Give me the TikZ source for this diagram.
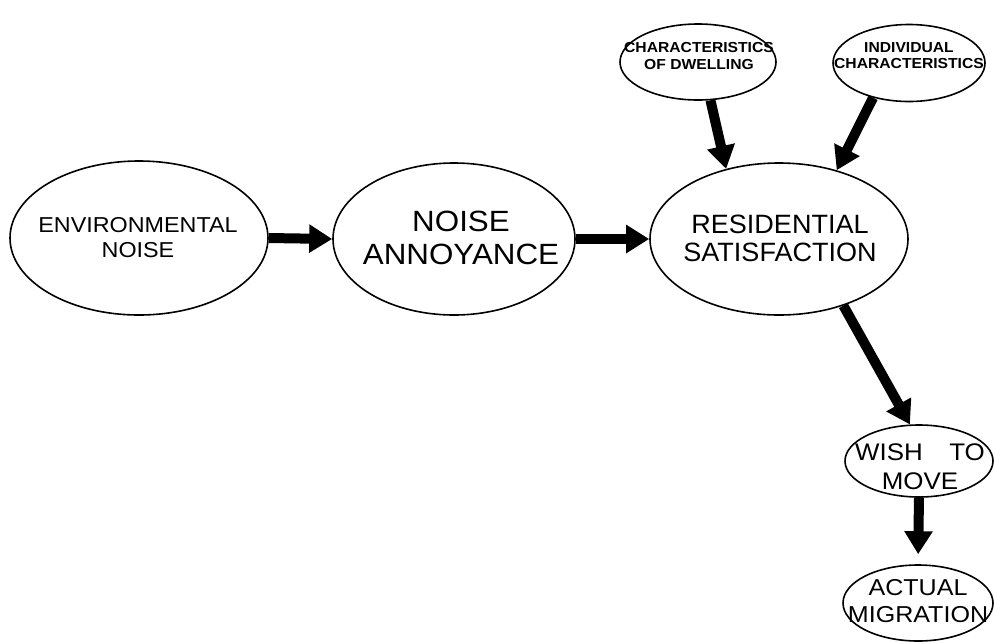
\documentclass[tikz,border=0pt]{standalone}
\usepackage{fontspec}
\usetikzlibrary{shapes.geometric,arrows.meta}
\newfontfamily\labfont{Liberation Sans}
\newcommand{\labsize}[3]{\labfont\addfontfeature{FakeStretch=#3}\fontsize{#1}{#2}\selectfont}
\begin{document}
\begin{tikzpicture}[x=1pt,y=-1pt,
  bubble/.style={ellipse, draw, line width=1.6pt, inner sep=0pt},
  lab/.style={align=center, inner sep=0pt},
  flow/.style={line width=10pt, -{Triangle[length=23pt,width=27pt]}}]
\useasboundingbox (0,0) rectangle (994,641);
\begin{scope}
\clip (0,0) rectangle (994,641);
% main chain of concepts
\node[bubble, minimum width=258pt, minimum height=154pt] (env)   at (139,238) {};
\node[bubble, minimum width=242pt, minimum height=152pt] (noise) at (454,239) {};
\node[bubble, minimum width=258pt, minimum height=152pt] (res)   at (779,239) {};
% influencing factors
\node[bubble, minimum width=156pt, minimum height=76pt] (dwell) at (698,62) {};
\node[bubble, minimum width=152pt, minimum height=77pt] (indiv) at (909,63) {};
% outcomes
\node[bubble, minimum width=148pt, minimum height=72pt] (wish) at (919,461) {};
\node[bubble, minimum width=150pt, minimum height=76pt] (act)  at (918,603) {};
\end{scope}

% labels
\node[lab, font=\labsize{21.6}{25}{1.08}] (envt) at (138,238) {ENVIRONMENTAL\\NOISE};
\node[lab, font=\labsize{29.3}{33}{1.07}] (noiset) at (461,237.5) {NOISE\\ANNOYANCE};
\node[lab, font=\labsize{26.5}{28}{1.02}] (rest) at (780,238.5) {RESIDENTIAL\\SATISFACTION};
\node[lab, font=\labsize{14.5}{17}{1.08}\bfseries] (dwellt) at (699,56) {CHARACTERISTICS\\OF DWELLING};
\node[lab, font=\labsize{14.5}{16}{1.08}\bfseries] (indivt) at (909,55.5) {INDIVIDUAL\\CHARACTERISTICS};
\node[lab, font=\labsize{24}{29}{1.08}] (wisht) at (920,466.5) {WISH\hspace{1.1em}TO\\MOVE};
\node[lab, font=\labsize{23}{27}{1.09}] (actt) at (918,601.5) {ACTUAL\\MIGRATION};

% causal arrows
\draw[flow] (env.east) -- (noise.west);
\draw[flow] (noise.east) -- (res.west);
\draw[flow] (dwell.-72) -- (res.127);
\draw[flow] (indiv.-136) -- (res.50);
\draw[flow] (res.-46) -- (wish.104);
\draw[flow, shorten >=10pt] (wish.south) -- (act.north);
\end{tikzpicture}
\end{document}
